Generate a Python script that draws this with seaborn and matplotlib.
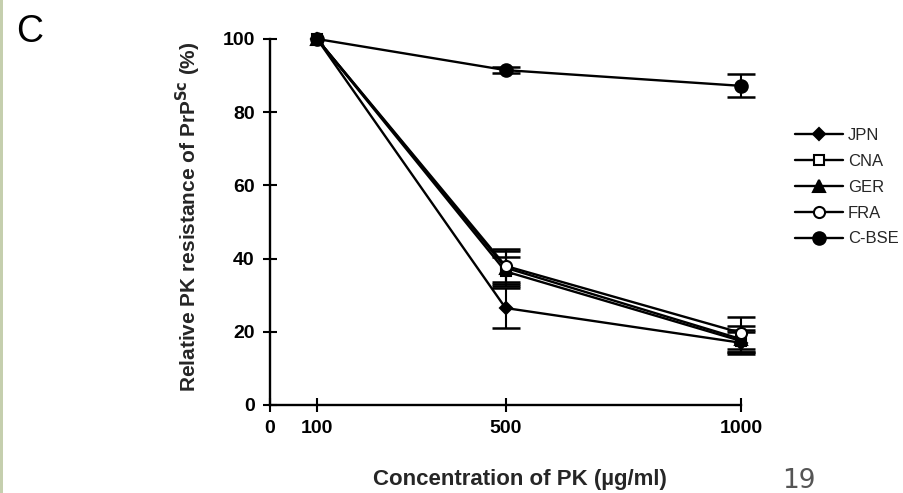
import matplotlib
matplotlib.use("Agg")
import matplotlib.pyplot as plt
import seaborn as sns
import pandas as pd
import numpy as np
from matplotlib.patches import Rectangle

sns.set_theme(style="ticks")
plt.rcParams['font.family'] = ['Liberation Sans', 'DejaVu Sans']

# ---- data ----
concentrations = [100, 500, 1000]
series_names = ["JPN", "CNA", "GER", "FRA", "C-BSE"]
jpn = [100, 26.5, 17.0]
cna = [100, 36.5, 17.5]
ger = [100, 37.5, 18.0]
fra = [100, 38.0, 19.7]
cbse = [100, 91.5, 87.2]
jpn_err = [0, 5.5, 3.0]
cna_err = [0, 4.0, 3.0]
ger_err = [0, 4.5, 3.5]
fra_err = [0, 4.5, 4.3]
cbse_err = [0, 0.8, 3.1]
x_ticks = [0, 100, 500, 1000]
y_ticks = [0, 20, 40, 60, 80, 100]

values = [jpn, cna, ger, fra, cbse]
errors = [jpn_err, cna_err, ger_err, fra_err, cbse_err]

rows = []
for name, vals, errs in zip(series_names, values, errors):
    for c, v, e in zip(concentrations, vals, errs):
        rows.append({"conc": c, "val": v, "err": e, "series": name})
df = pd.DataFrame(rows)

styles = {
    "JPN": dict(marker="D", mfc="black", ms=6),
    "CNA": dict(marker="s", mfc="white", ms=7),
    "GER": dict(marker="^", mfc="black", ms=8),
    "FRA": dict(marker="o", mfc="white", ms=8),
    "C-BSE": dict(marker="o", mfc="black", ms=9),
}

fig = plt.figure(figsize=(9.04, 4.93), dpi=100)
ax = fig.add_axes([0.2987, 0.1785, 0.5210, 0.7424])

for name in series_names:
    sub = df[df["series"] == name]
    st = styles[name]
    eb = sub[sub["err"] > 0]
    ax.errorbar(eb["conc"], eb["val"], yerr=eb["err"], fmt="none",
                ecolor="black", elinewidth=1.5, capsize=10, capthick=1.8,
                clip_on=False, zorder=2)
    sns.lineplot(data=sub, x="conc", y="val", ax=ax, color="black",
                 linewidth=1.7, marker=st["marker"], markersize=st["ms"],
                 markerfacecolor=st["mfc"], markeredgecolor="black",
                 markeredgewidth=1.5, label=name, clip_on=False,
                 errorbar=None, zorder=3)

ax.set_xlim(0, 1000)
ax.set_ylim(0, 100)
ax.set_xticks(x_ticks)
ax.set_yticks(y_ticks)
ax.set_xticklabels([str(t) for t in x_ticks], fontweight="bold", fontsize=14)
ax.set_yticklabels([str(t) for t in y_ticks], fontweight="bold", fontsize=14)
ax.tick_params(direction="inout", length=10, width=1.5, pad=6, colors="black")
for s in ["top", "right"]:
    ax.spines[s].set_visible(False)
for s in ["left", "bottom"]:
    ax.spines[s].set_linewidth(1.7)
    ax.spines[s].set_color("black")

ax.set_xlabel("Concentration of PK (\u00b5g/ml)", fontweight="bold", fontsize=16)
ax.xaxis.set_label_coords(0.531, -0.175)
ax.set_ylabel("Relative PK resistance of PrP$^{\\mathbf{Sc}}$ (%)", fontweight="bold", fontsize=15)
ax.yaxis.set_label_coords(-0.142, 0.514)

leg = ax.legend(loc="upper left", bbox_to_anchor=(1.10, 0.775), frameon=False,
                fontsize=12, handlelength=2.9, handletextpad=0.3, labelspacing=0.65,
                borderaxespad=0)

fig.text(0.018, 0.915, "C", fontsize=27, color="black")
fig.text(0.865, 0.01, "19", fontsize=19, color="#555555", family="DejaVu Sans")
fig.patches.append(Rectangle((0, 0), 0.003, 1, transform=fig.transFigure,
                             facecolor="#c5cfae", edgecolor="none"))

fig.savefig("out.png", dpi=100, facecolor="white")
